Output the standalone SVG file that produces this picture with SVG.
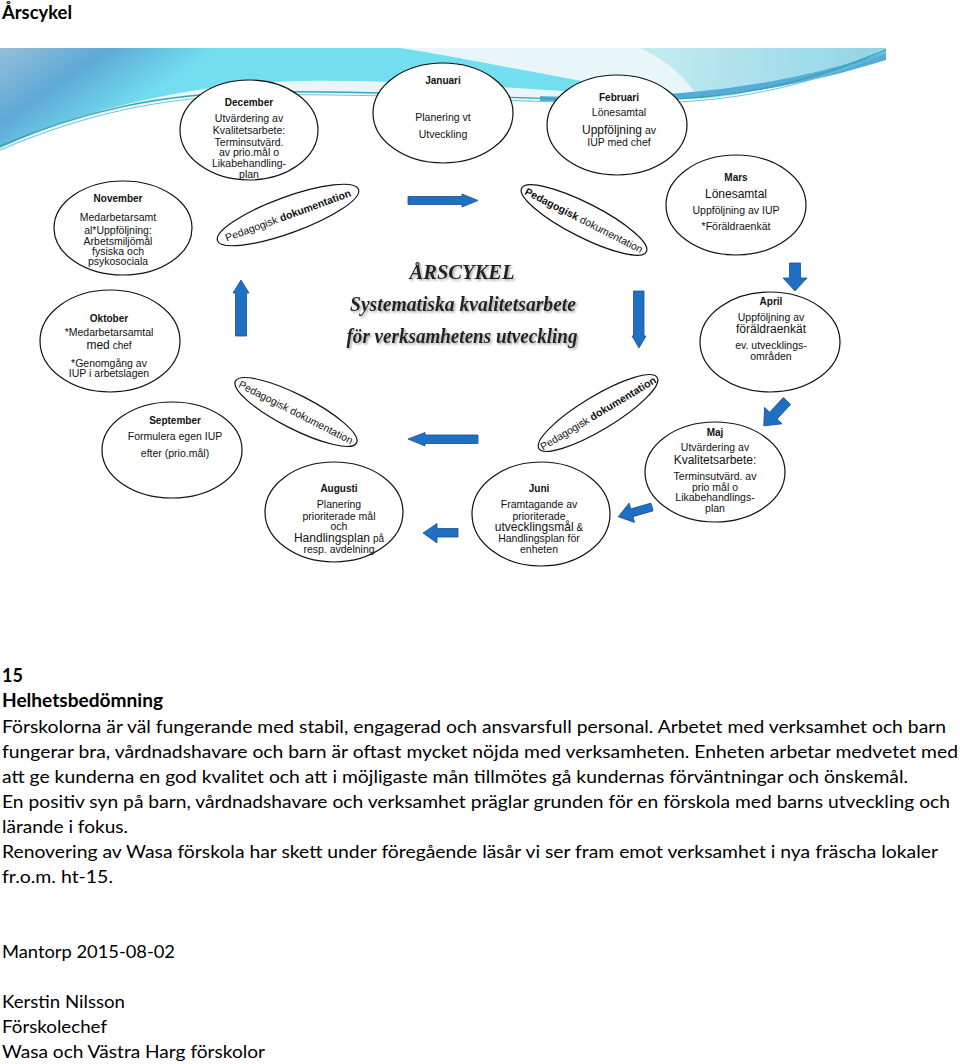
<svg xmlns="http://www.w3.org/2000/svg" width="960" height="1064" viewBox="0 0 960 1064">
<style>
.ell{fill:#fff;stroke:#111;stroke-width:1.2}
.ped{fill:none;stroke:#111;stroke-width:1.2}
.t{font-family:"Liberation Sans",Arial,sans-serif;fill:#111;text-anchor:middle;font-size:10.5px}
.b{font-weight:bold;font-size:10px}
.big{font-size:12px}
.pt{font-family:"Liberation Sans",Arial,sans-serif;fill:#111;text-anchor:middle;font-size:10.5px}
.arr{fill:#1f6fc4;stroke:#174f90;stroke-width:0.8}
.doc{font-family:Lato,"Liberation Sans",sans-serif;fill:#000;font-size:18px}
.db{font-weight:bold}
.scr{font-family:"Liberation Serif","DejaVu Serif",serif;font-style:italic;font-weight:bold;fill:#222;font-size:21px;text-anchor:middle}
</style>
<defs>
<linearGradient id="gb" x1="0" y1="48" x2="70" y2="150" gradientUnits="userSpaceOnUse">
<stop offset="0" stop-color="#95bfd8"/><stop offset="0.5" stop-color="#5fa9d6"/><stop offset="1" stop-color="#72def0"/>
</linearGradient>
<linearGradient id="gc" x1="620" y1="48" x2="886" y2="90" gradientUnits="userSpaceOnUse">
<stop offset="0" stop-color="#c9eef3"/><stop offset="1" stop-color="#8fd3e6"/>
</linearGradient>
<filter id="sh" x="-5%" y="-30%" width="110%" height="160%">
<feDropShadow dx="1.5" dy="1.5" stdDeviation="0.8" flood-color="#888" flood-opacity="0.8"/>
</filter>
</defs>
<rect width="960" height="1064" fill="#fff"/>

<g id="header-wave">
<path d="M0,48 H886 V58 C800,80 720,101 620,102 C480,104 360,92 260,93 C150,95 70,120 0,152 Z" fill="#e8f6f9"/>
<path d="M640,48 H886 V58 C810,80 750,95 700,99 C690,85 675,64 640,48 Z" fill="url(#gc)"/>
<path d="M0,48 H400 C480,60 580,84 700,99 C560,92 420,79 300,81 C180,84 80,112 0,148 Z" fill="url(#gb)"/>
<path d="M540,96 C680,101 790,84 886,52 V60 C790,90 690,106 540,101 Z" fill="#55acd9"/>
<path d="M0,146 C80,112 160,93 260,92 C400,90 500,100 640,100 C760,100 830,72 886,50" fill="none" stroke="#3aa3b6" stroke-width="1.4"/>
<path d="M0,150 C80,116 160,96 260,95 C400,93 500,103 640,103 C760,103 830,75 886,53" fill="none" stroke="#6cc6d3" stroke-width="1"/>
</g>

<g id="connectors">
<polygon class="arr" points="408,196.5 462,196.5 462,194 478,200.5 462,207 462,204.5 408,204.5"/>
<polygon class="arr" points="633.5,291 644,291 644,336 646,336 639,348 632,336 633.5,336"/>
<polygon class="arr" points="235.5,336 246.5,336 246.5,293 249,293 241,280 233,293 235.5,293"/>
<polygon class="arr" points="478,435 425,435 425,432.5 408,439 425,446 425,443.5 478,443.5"/>
<polygon class="arr" points="789.5,263 800.5,263 800.5,278 807,278 795,291 783,278 789.5,278"/>
<polygon class="arr" transform="translate(787,401) rotate(133)" points="0,-5 20,-5 20,-12 34,0 20,12 20,5 0,5"/>
<polygon class="arr" transform="translate(652,507) rotate(164)" points="0,-4 21,-4 21,-10 35,0 21,10 21,4 0,4"/>
<polygon class="arr" points="458,528.5 437,528.5 437,523.5 423,533 437,543 437,537 458,537"/>
</g>

<g id="december">
<ellipse class="ell" cx="249" cy="130" rx="69" ry="50"/>
<text class="t b" x="249" y="106">December</text>
<text class="t" x="249" y="122" font-size="11.5">Utvärdering av</text>
<text class="t" x="249" y="133.5" font-size="11.5">Kvalitetsarbete:</text>
<text class="t" x="249" y="145.5" font-size="12.5">Terminsutvärd.</text>
<text class="t" x="249" y="156" font-size="11.5">av prio.mål o</text>
<text class="t" x="249" y="167" font-size="11.5">Likabehandling-</text>
<text class="t" x="249" y="178" font-size="11.5">plan</text>
</g>

<g id="januari">
<ellipse class="ell" cx="443" cy="113" rx="70" ry="50"/>
<text class="t b" x="443" y="84" font-size="11">Januari</text>
<text class="t" x="443" y="121" font-size="11.5">Planering vt</text>
<text class="t" x="443" y="138" font-size="11.5">Utveckling</text>
</g>

<g id="februari">
<ellipse class="ell" cx="617" cy="125" rx="70" ry="50"/>
<text class="t b" x="619" y="100.5">Februari</text>
<text class="t" x="619" y="115.5">Lönesamtal</text>
<text class="t" x="619" y="133.5"><tspan font-size="12">Uppföljning</tspan> av</text>
<text class="t" x="619" y="146">IUP med chef</text>
</g>

<g id="mars">
<ellipse class="ell" cx="736" cy="205" rx="70" ry="50"/>
<text class="t b" x="736" y="180.5">Mars</text>
<text class="t big" x="736" y="198">Lönesamtal</text>
<text class="t" x="736" y="214">Uppföljning av IUP</text>
<text class="t" x="736" y="230" font-size="10">*Föräldraenkät</text>
</g>

<g id="april">
<ellipse class="ell" cx="770" cy="342" rx="70" ry="50"/>
<text class="t b" x="771" y="304.5">April</text>
<text class="t" x="771" y="320.5">Uppföljning av</text>
<text class="t big" x="771" y="332.5">föräldraenkät</text>
<text class="t" x="771" y="349" font-size="10">ev. utvecklings-</text>
<text class="t" x="771" y="360" font-size="10">områden</text>
</g>

<g id="maj">
<ellipse class="ell" cx="715" cy="472" rx="70" ry="50"/>
<text class="t b" x="715" y="435.5">Maj</text>
<text class="t" x="715" y="451">Utvärdering av</text>
<text class="t big" x="715" y="463.5">Kvalitetsarbete:</text>
<text class="t" x="715" y="480" font-size="10">Terminsutvärd. av</text>
<text class="t" x="715" y="490.5" font-size="10">prio mål o</text>
<text class="t" x="715" y="501" font-size="10">Likabehandlings-</text>
<text class="t" x="715" y="512" font-size="10">plan</text>
</g>

<g id="juni">
<ellipse class="ell" cx="541" cy="514" rx="69" ry="52"/>
<text class="t b" x="539" y="492">Juni</text>
<text class="t" x="539" y="508" font-size="10">Framtagande av</text>
<text class="t" x="539" y="520" font-size="10">prioriterade</text>
<text class="t" x="539" y="531"><tspan font-size="12">utvecklingsmål</tspan> <tspan font-size="10">&amp;</tspan></text>
<text class="t" x="539" y="542" font-size="10">Handlingsplan för</text>
<text class="t" x="539" y="553" font-size="10">enheten</text>
</g>

<g id="augusti">
<ellipse class="ell" cx="334" cy="512" rx="69" ry="50"/>
<text class="t b" x="339" y="492">Augusti</text>
<text class="t" x="339" y="508" font-size="10">Planering</text>
<text class="t" x="339" y="520" font-size="10">prioriterade mål</text>
<text class="t" x="339" y="530" font-size="10">och</text>
<text class="t" x="339" y="541.5"><tspan font-size="12">Handlingsplan</tspan> <tspan font-size="10">på</tspan></text>
<text class="t" x="339" y="553" font-size="10">resp. avdelning</text>
</g>

<g id="september">
<ellipse class="ell" cx="172" cy="450" rx="70" ry="48"/>
<text class="t b" x="175" y="424">September</text>
<text class="t" x="175" y="440">Formulera egen IUP</text>
<text class="t" x="175" y="456.5" font-size="10">efter (prio.mål)</text>
</g>

<g id="oktober">
<ellipse class="ell" cx="110" cy="341" rx="70" ry="51"/>
<text class="t b" x="109" y="321.5">Oktober</text>
<text class="t" x="109" y="335.5">*Medarbetarsamtal</text>
<text class="t" x="109" y="348.5"><tspan font-size="12">med</tspan> <tspan font-size="10">chef</tspan></text>
<text class="t" x="109" y="366.5">*Genomgång av</text>
<text class="t" x="109" y="377">IUP i arbetslagen</text>
</g>

<g id="november">
<ellipse class="ell" cx="123" cy="228" rx="69" ry="47"/>
<text class="t b" x="118" y="202">November</text>
<text class="t" x="118" y="220.5" font-size="12.5">Medarbetarsamt</text>
<text class="t" x="118" y="234" font-size="12.5">al*Uppföljning:</text>
<text class="t" x="118" y="244.5" font-size="9.8">Arbetsmiljömål</text>
<text class="t" x="118" y="254.5" font-size="9.8">fysiska och</text>
<text class="t" x="118" y="264.5" font-size="9.8">psykosociala</text>
</g>

<g id="ped-top-left" transform="translate(288,215) rotate(-20)">
<ellipse class="ped" cx="0" cy="0" rx="75" ry="18"/>
<text class="pt" x="0" y="4">Pedagogisk <tspan font-weight="bold">dokumentation</tspan></text>
</g>
<g id="ped-top-right" transform="translate(584,220) rotate(27)">
<ellipse class="ped" cx="0" cy="0" rx="70" ry="17"/>
<text class="pt" x="0" y="4"><tspan font-weight="bold">Pedagogisk</tspan> dokumentation</text>
</g>
<g id="ped-bottom-left" transform="translate(296,412) rotate(27)">
<ellipse class="ped" cx="0" cy="0" rx="68" ry="17"/>
<text class="pt" x="0" y="4">Pedagogisk dokumentation</text>
</g>
<g id="ped-bottom-right" transform="translate(598,413) rotate(-31)">
<ellipse class="ped" cx="0" cy="0" rx="69" ry="17"/>
<text class="pt" x="0" y="4">Pedagogisk <tspan font-weight="bold">dokumentation</tspan></text>
</g>

<g id="center-title" filter="url(#sh)">
<text class="scr" x="462" y="279" textLength="105" lengthAdjust="spacingAndGlyphs">ÅRSCYKEL</text>
<text class="scr" x="463" y="311" textLength="226" lengthAdjust="spacingAndGlyphs">Systematiska kvalitetsarbete</text>
<text class="scr" x="462" y="343" textLength="231" lengthAdjust="spacingAndGlyphs">för verksamhetens utveckling</text>
</g>

<g id="document-text">
<text class="doc db" x="2" y="19" font-size="20" textLength="70" lengthAdjust="spacingAndGlyphs">Årscykel</text>
<text class="doc db" x="2" y="682">15</text>
<text class="doc db" x="2" y="707" textLength="161" lengthAdjust="spacingAndGlyphs">Helhetsbedömning</text>
<text class="doc" x="2" y="733" textLength="944" lengthAdjust="spacingAndGlyphs">Förskolorna är väl fungerande med stabil, engagerad och ansvarsfull personal. Arbetet med verksamhet och barn</text>
<text class="doc" x="2" y="758" textLength="956" lengthAdjust="spacingAndGlyphs">fungerar bra, vårdnadshavare och barn är oftast mycket nöjda med verksamheten. Enheten arbetar medvetet med</text>
<text class="doc" x="2" y="783" textLength="906" lengthAdjust="spacingAndGlyphs">att ge kunderna en god kvalitet och att i möjligaste mån tillmötes gå kundernas förväntningar och önskemål.</text>
<text class="doc" x="2" y="808" textLength="948" lengthAdjust="spacingAndGlyphs">En positiv syn på barn, vårdnadshavare och verksamhet präglar grunden för en förskola med barns utveckling och</text>
<text class="doc" x="2" y="833" textLength="126" lengthAdjust="spacingAndGlyphs">lärande i fokus.</text>
<text class="doc" x="2" y="858" textLength="936" lengthAdjust="spacingAndGlyphs">Renovering av Wasa förskola har skett under föregående läsår vi ser fram emot verksamhet i nya fräscha lokaler</text>
<text class="doc" x="2" y="883" textLength="111" lengthAdjust="spacingAndGlyphs">fr.o.m. ht-15.</text>
<text class="doc" x="2" y="958" textLength="173" lengthAdjust="spacingAndGlyphs">Mantorp 2015-08-02</text>
<text class="doc" x="2" y="1008" textLength="123" lengthAdjust="spacingAndGlyphs">Kerstin Nilsson</text>
<text class="doc" x="2" y="1033" textLength="105" lengthAdjust="spacingAndGlyphs">Förskolechef</text>
<text class="doc" x="2" y="1058" textLength="263" lengthAdjust="spacingAndGlyphs">Wasa och Västra Harg förskolor</text>
</g>
</svg>
